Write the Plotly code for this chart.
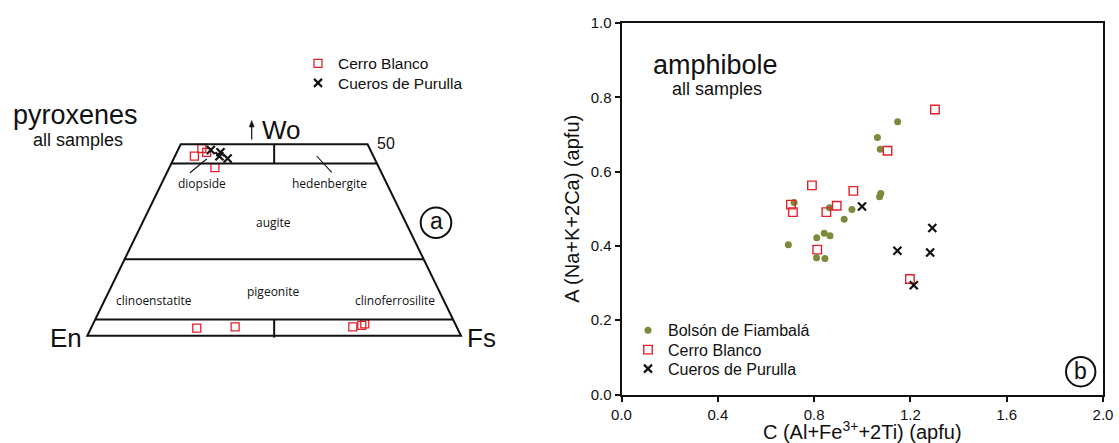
import plotly.graph_objects as go

W, H = 1119, 443

# ---------------- data: amphibole (panel b) ----------------
bf_c = [1.147, 1.063, 1.075, 1.077, 1.072, 0.717, 0.864, 0.957, 0.925, 0.842, 0.866, 0.811, 0.693, 0.810, 0.845]
bf_a = [0.734, 0.692, 0.660, 0.541, 0.532, 0.517, 0.503, 0.498, 0.472, 0.434, 0.427, 0.422, 0.403, 0.368, 0.366]
cb_c = [1.302, 1.105, 0.791, 0.963, 0.704, 0.712, 0.894, 0.851, 0.813, 1.198]
cb_a = [0.767, 0.656, 0.563, 0.548, 0.511, 0.491, 0.508, 0.491, 0.390, 0.311]
cp_c = [0.999, 1.291, 1.146, 1.282, 1.214]
cp_a = [0.506, 0.448, 0.387, 0.382, 0.294]

# ---------------- data: pyroxene (panel a), Wo and Fs mol% ----------------
px_cb_wo = [46.9, 48.9, 47.9, 43.9, 2.0, 2.3, 2.3, 2.7, 3.1]
px_cb_fs = [5.2, 6.2, 8.0, 12.2, 28.3, 38.4, 69.9, 72.1, 72.7]
px_cp_wo = [48.5, 47.9, 46.9, 46.3]
px_cp_fs = [8.8, 11.7, 11.9, 14.4]

x_ticks = [0.0, 0.4, 0.8, 1.2, 1.6, 2.0]
y_ticks = [0.0, 0.2, 0.4, 0.6, 0.8, 1.0]

RED = "#e3202a"
GREEN = "#7a8b3c"
BLACK = "#111111"
ARIAL = "Liberation Sans, Arial, sans-serif"
MYRIAD = "Open Sans, sans-serif"


def P(px, py):
    return px / W, 1 - py / H


# position in quadrilateral (En-Fs baseline 0..100, Wo up)
def quad_x(wo, fs):
    return [f + w / 2 for w, f in zip(wo, fs)]


fig = go.Figure()

# amphibole traces
fig.add_trace(go.Scatter(x=bf_c, y=bf_a, mode="markers", name="Bolsón de Fiambalá",
                         marker=dict(symbol="circle", size=7, color=GREEN), legend="legend"))
fig.add_trace(go.Scatter(x=cb_c, y=cb_a, mode="markers", name="Cerro Blanco",
                         marker=dict(symbol="square-open", size=8.5, color=RED, line=dict(width=1.4, color=RED)),
                         legend="legend3"))
fig.add_trace(go.Scatter(x=cp_c, y=cp_a, mode="markers", name="Cueros de Purulla",
                         marker=dict(symbol="x-thin", size=8, color=BLACK, line=dict(width=2.2, color=BLACK)),
                         legend="legend4"))

# pyroxene traces
fig.add_trace(go.Scatter(x=quad_x(px_cb_wo, px_cb_fs), y=px_cb_wo, mode="markers", name="Cerro Blanco",
                         xaxis="x2", yaxis="y2",
                         marker=dict(symbol="square-open", size=8, color=RED, line=dict(width=1.3, color=RED)),
                         legend="legend2"))
fig.add_trace(go.Scatter(x=quad_x(px_cp_wo, px_cp_fs), y=px_cp_wo, mode="markers", name="Cueros de Purulla",
                         xaxis="x2", yaxis="y2",
                         marker=dict(symbol="x-thin", size=8, color=BLACK, line=dict(width=2.2, color=BLACK)),
                         legend="legend5"))

# ---------------- layout geometry ----------------
x0_px, x1_px = 621.5, 1103.0
y0_px, y1_px = 394.5, 23.0
en_px, fs_px, base_py, top_py = 87.3, 461.0, 335.7, 144.3
ux = 100.0 / (fs_px - en_px)
uy = 50.0 / (base_py - top_py)
left_w_px = 515.0

shapes = []
lw = 2
shapes.append(dict(type="path", xref="x2", yref="y2", path="M 0,0 L 100,0 L 75,50 L 25,50 Z",
                   line=dict(color=BLACK, width=lw)))
for wo in [45, 20, 4.2]:
    shapes.append(dict(type="line", xref="x2", yref="y2", x0=wo / 2, x1=100 - wo / 2, y0=wo, y1=wo,
                       line=dict(color=BLACK, width=lw)))
shapes.append(dict(type="line", xref="x2", yref="y2", x0=50, x1=50, y0=45, y1=50, line=dict(color=BLACK, width=lw)))
shapes.append(dict(type="line", xref="x2", yref="y2", x0=50, x1=50, y0=-0.5, y1=4.2, line=dict(color=BLACK, width=lw)))


def line_px(a, b, width=1.1):
    (xa, ya), (xb, yb) = P(*a), P(*b)
    return dict(type="line", xref="paper", yref="paper", x0=xa, y0=ya, x1=xb, y1=yb,
                line=dict(color=BLACK, width=width))


shapes.append(line_px((190, 172.7), (206.7, 159)))
shapes.append(line_px((316.7, 156), (331.7, 172.3)))

# Wo arrow: shaft + head
shapes.append(line_px((251.7, 139.5), (251.7, 125), width=1.2))
ha, hb, hc = P(249.2, 127), P(254.2, 127), P(251.7, 120.5)
shapes.append(dict(type="path", xref="paper", yref="paper",
                   path=f"M {ha[0]},{ha[1]} L {hb[0]},{hb[1]} L {hc[0]},{hc[1]} Z",
                   fillcolor=BLACK, line=dict(color=BLACK, width=0.5)))


def circle_px(cx, cy, r):
    xa, ya = P(cx - r, cy + r)
    xb, yb = P(cx + r, cy - r)
    return dict(type="circle", xref="paper", yref="paper", x0=xa, y0=ya, x1=xb, y1=yb,
                line=dict(color=BLACK, width=2))


shapes.append(circle_px(436, 222.7, 15.3))
shapes.append(circle_px(1080.7, 371.7, 14.7))

annotations = []


def txt(text, px, py, size, family=ARIAL, xanchor="center"):
    x, y = P(px, py)
    annotations.append(dict(text=text, x=x, y=y, xref="paper", yref="paper", showarrow=False,
                            xanchor=xanchor, yanchor="middle", font=dict(size=size, family=family, color=BLACK)))


txt("pyroxenes", 75, 115, 27)
txt("all samples", 78.3, 140, 18)
txt("Wo", 281.3, 130, 26)
txt("50", 385.7, 143.5, 16)
txt("En", 66, 338, 26)
txt("Fs", 481, 338, 26)
txt("a", 436, 221, 23)
txt("diopside", 201.7, 183.3, 12, MYRIAD)
txt("hedenbergite", 330, 183.3, 12, MYRIAD)
txt("augite", 273.3, 222.7, 12, MYRIAD)
txt("pigeonite", 273.3, 291.7, 12, MYRIAD)
txt("clinoenstatite", 154.3, 300, 12, MYRIAD)
txt("clinoferrosilite", 395, 300, 12, MYRIAD)
txt("amphibole", 715.5, 65, 27)
txt("all samples", 717.3, 88.5, 18)
txt("b", 1080.7, 370.5, 23)


def legend_at(px, row_center_py, size, offset):
    x, y = P(px, row_center_py - offset)
    return dict(x=x, y=y, xanchor="left", yanchor="top", bgcolor="rgba(0,0,0,0)",
                font=dict(size=size, family=ARIAL, color=BLACK), tracegroupgap=0, itemclick=False,
                itemdoubleclick=False)


fig.update_layout(
    width=W, height=H,
    margin=dict(l=0, r=0, t=0, b=0),
    paper_bgcolor="white", plot_bgcolor="white",
    font=dict(family=ARIAL, color=BLACK),
    xaxis=dict(domain=[x0_px / W, x1_px / W], range=[0, 2], tickvals=x_ticks, tickformat=".1f",
               ticks="outside", ticklen=5, tickwidth=1.5, tickcolor=BLACK,
               showline=True, linewidth=2, linecolor=BLACK, mirror=True,
               showgrid=False, zeroline=False, tickfont=dict(size=15, family=ARIAL),
               title=dict(text="C (Al+Fe<sup>3+</sup>+2Ti) (apfu)", font=dict(size=20, family=ARIAL), standoff=3),
               anchor="y", automargin=False),
    yaxis=dict(domain=[1 - y0_px / H, 1 - y1_px / H], range=[0, 1], tickvals=y_ticks, tickformat=".1f",
               ticks="outside", ticklen=5, tickwidth=1.5, tickcolor=BLACK,
               showline=True, linewidth=2, linecolor=BLACK, mirror=True,
               showgrid=False, zeroline=False, tickfont=dict(size=15, family=ARIAL),
               title=dict(text="A (Na+K+2Ca) (apfu)", font=dict(size=20, family=ARIAL), standoff=6),
               anchor="x", automargin=False),
    xaxis2=dict(domain=[0, left_w_px / W], range=[-en_px * ux, (left_w_px - en_px) * ux],
                visible=False, anchor="y2"),
    yaxis2=dict(domain=[0, 1], range=[-(H - base_py) * uy, base_py * uy], visible=False, anchor="x2"),
    legend=legend_at(628, 328.3, 16, 15),
    legend3=legend_at(628, 347.7, 16, 15),
    legend4=legend_at(628, 366.7, 16, 15),
    legend2=legend_at(298, 62.7, 15.5, 16),
    legend5=legend_at(298, 82.3, 15.5, 16),
    shapes=shapes,
    annotations=annotations,
    showlegend=True,
)

fig.write_html("out.html")
